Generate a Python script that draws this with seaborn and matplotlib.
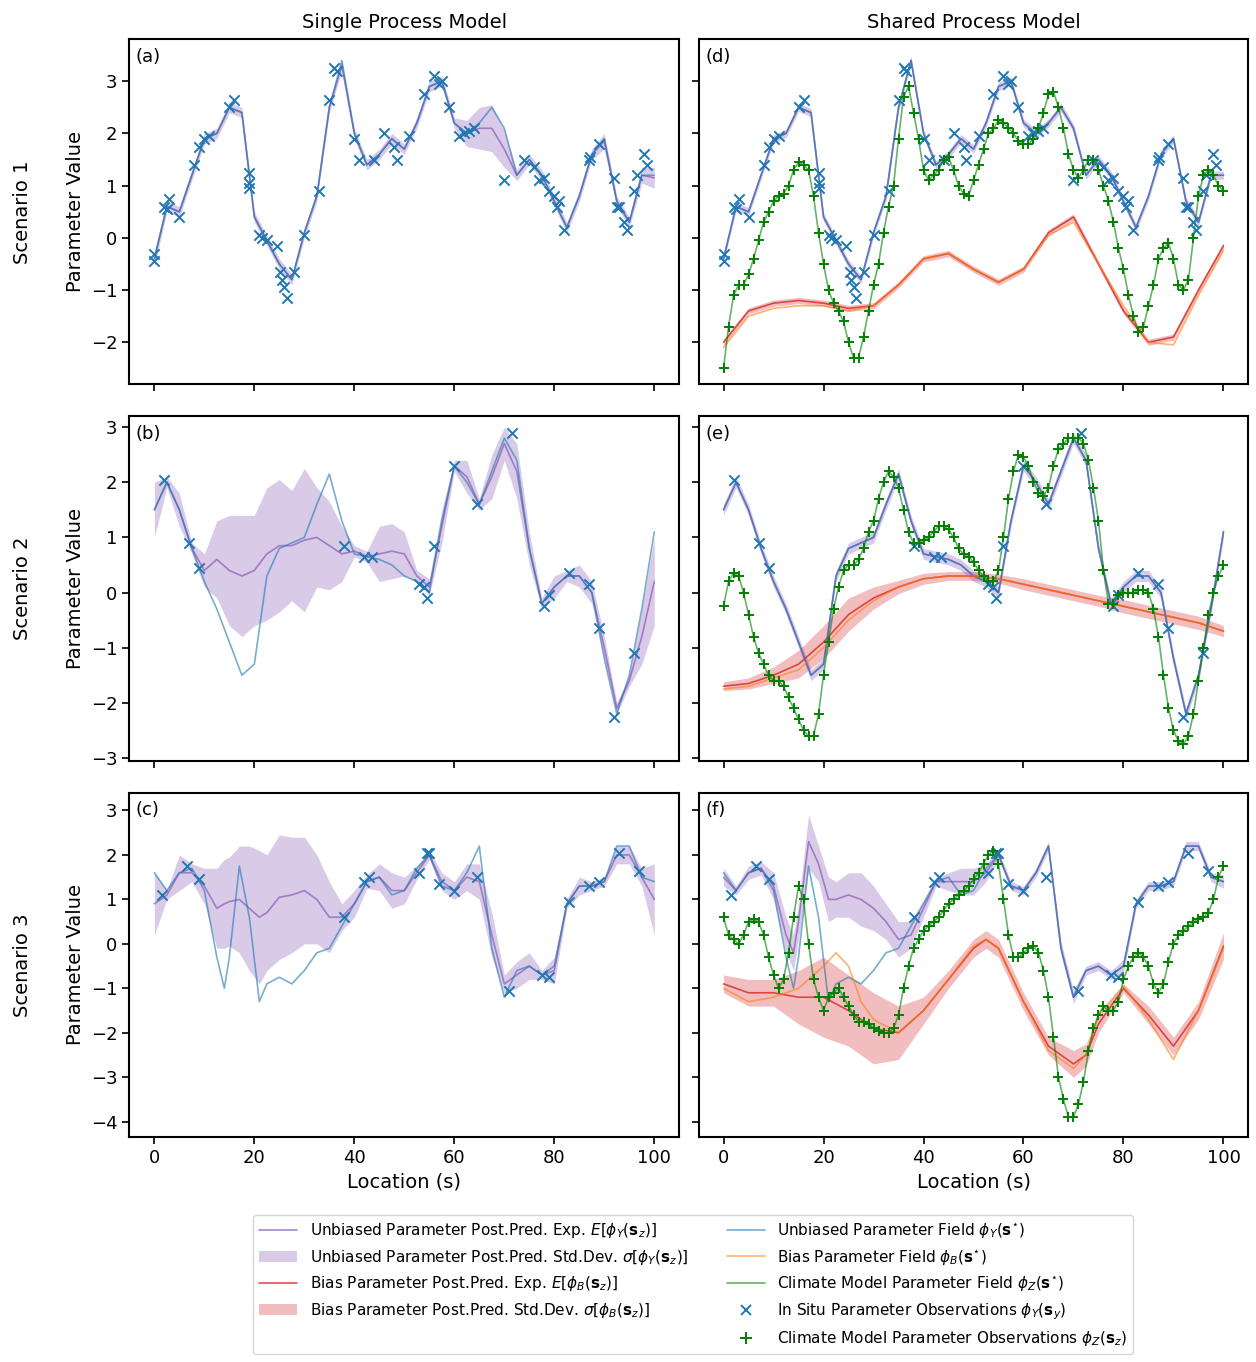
import numpy as np
import seaborn as sns
import matplotlib.pyplot as plt
from matplotlib.lines import Line2D
from matplotlib.patches import Patch

sns.set_style('ticks', {'axes.edgecolor': 'black', 'xtick.color': 'black', 'ytick.color': 'black',
                        'text.color': 'black', 'axes.labelcolor': 'black'})
plt.rcParams['font.family'] = ['DejaVu Sans']

g = [0, 2.5, 5, 7.5, 10, 12.5, 15, 17.5, 20, 22.5, 25, 27.5, 30, 32.5, 35, 37.5, 40, 42.5, 45, 47.5,
     50, 52.5, 55, 57.5, 60, 62.5, 65, 67.5, 70, 72.5, 75, 77.5, 80, 82.5, 85, 87.5, 90, 92.5, 95, 97.5, 100]
g5 = [0, 5, 10, 15, 20, 25, 30, 35, 40, 45, 50, 55, 60, 65, 70, 75, 80, 85, 90, 95, 100]
g1 = list(range(101))

# ---------------- Scenario 1 ----------------
y1_obs_x = [0, 0, 2, 2.5, 3, 5, 8, 9, 10, 11, 15, 16, 19, 19, 19, 21, 21.5, 22.5, 24.5, 25.2, 25.5, 26, 26.5, 28, 30,
            33, 35, 36, 36.5, 40, 41, 44, 46, 48, 48.5, 51, 54, 56, 57, 57.5, 59, 61, 62, 63, 64, 70, 74, 76, 77, 78,
            79, 80, 80.5, 81, 82, 87, 87.2, 89, 92, 92.5, 93, 94, 94.5, 96, 96.5, 98, 98.5]
y1_obs = [-0.3, -0.45, 0.6, 0.55, 0.75, 0.4, 1.4, 1.75, 1.9, 1.95, 2.5, 2.65, 1.25, 1.05, 0.95, 0.05, 0, -0.05, -0.15,
          -0.65, -0.8, -0.95, -1.15, -0.65, 0.05, 0.9, 2.65, 3.25, 3.2, 1.9, 1.5, 1.5, 2.0, 1.75, 1.5, 1.95, 2.75, 3.1,
          2.95, 3.0, 2.5, 1.95, 2.0, 2.05, 2.1, 1.1, 1.5, 1.35, 1.1, 1.15, 0.9, 0.8, 0.6, 0.7, 0.15, 1.5, 1.55, 1.8,
          1.15, 0.6, 0.6, 0.3, 0.15, 0.9, 1.2, 1.6, 1.4]
y1_field = [-0.4, 0.6, 0.5, 1.2, 1.9, 2.0, 2.5, 2.4, 0.4, -0.05, -0.5, -0.8, 0.1, 0.8, 2.5, 3.4, 2.0, 1.4, 1.6, 1.9,
            1.7, 2.2, 2.9, 3.0, 2.2, 2.0, 2.2, 2.5, 2.1, 1.2, 1.5, 1.2, 0.7, 0.2, 0.8, 1.6, 1.9, 0.7, 0.3, 1.2, 1.2]
y1_mean_a = [-0.4, 0.6, 0.5, 1.2, 1.9, 2.0, 2.5, 2.4, 0.4, -0.05, -0.5, -0.8, 0.1, 0.8, 2.5, 3.3, 2.0, 1.4, 1.6, 1.9,
             1.7, 2.2, 2.9, 3.0, 2.2, 2.0, 2.1, 2.1, 1.7, 1.2, 1.5, 1.2, 0.7, 0.2, 0.8, 1.6, 1.85, 0.7, 0.3, 1.2, 1.15]
y1_std_a = [0.15, 0.1, 0.1, 0.1, 0.1, 0.1, 0.1, 0.1, 0.1, 0.1, 0.1, 0.1, 0.1, 0.1, 0.1, 0.1, 0.1, 0.1, 0.1, 0.1,
            0.1, 0.1, 0.1, 0.1, 0.1, 0.25, 0.4, 0.45, 0.35, 0.1, 0.1, 0.1, 0.1, 0.1, 0.1, 0.1, 0.15, 0.1, 0.1, 0.15, 0.2]
y1_mean_d = y1_field
y1_std_d = [0.08] * 41
b1_mean = [-2.0, -1.4, -1.25, -1.2, -1.25, -1.35, -1.3, -0.9, -0.4, -0.3, -0.6, -0.85, -0.6, 0.1, 0.4, -0.5,
           -1.4, -2.0, -1.9, -1.0, -0.15]
b1_std = [0.06] * 21
b1_field = [-2.1, -1.5, -1.35, -1.3, -1.3, -1.4, -1.3, -0.9, -0.4, -0.3, -0.6, -0.85, -0.6, 0.05, 0.3, -0.5,
            -1.3, -2.0, -2.05, -1.1, -0.25]
z1 = [-2.5, -1.7, -1.1, -0.9, -0.9, -0.7, -0.4, -0.05, 0.3, 0.5, 0.7, 0.8, 0.85, 1.0, 1.3, 1.45, 1.4, 1.3, 0.8, 0.1,
      -0.5, -1.0, -1.25, -1.4, -1.6, -2.0, -2.3, -2.3, -1.9, -1.4, -0.9, -0.5, 0.1, 0.6, 1.0, 1.9, 2.7, 2.9, 2.4, 1.9,
      1.3, 1.1, 1.2, 1.3, 1.5, 1.55, 1.3, 1.0, 0.85, 0.8, 1.1, 1.4, 1.7, 2.0, 2.1, 2.25, 2.2, 2.1, 2.0, 1.85, 1.8,
      1.8, 1.9, 2.1, 2.4, 2.75, 2.8, 2.5, 2.1, 1.6, 1.3, 1.15, 1.3, 1.5, 1.5, 1.3, 1.0, 0.7, 0.3, -0.2, -0.6, -1.1,
      -1.5, -1.8, -1.7, -1.3, -0.9, -0.4, -0.2, -0.1, -0.4, -0.9, -1.0, -0.8, 0.0, 0.8, 1.2, 1.3, 1.2, 1.0, 0.9]

# ---------------- Scenario 2 ----------------
y2_obs_x = [2, 7, 9, 38, 42, 43.5, 53, 54, 54.5, 56, 60, 64.5, 71.5, 78, 79, 83, 87, 89, 92, 96]
y2_obs = [2.05, 0.9, 0.45, 0.85, 0.65, 0.65, 0.15, 0.1, -0.1, 0.85, 2.3, 1.6, 2.9, -0.25, -0.05, 0.35, 0.15, -0.65,
          -2.25, -1.1]
y2_field = [1.5, 2.0, 1.5, 0.8, 0.2, -0.3, -0.9, -1.5, -1.3, 0.3, 0.8, 0.9, 1.0, 1.6, 2.15, 1.3, 0.7, 0.65, 0.6, 0.5,
            0.3, 0.2, 0.0, 1.3, 2.3, 2.0, 1.6, 2.2, 2.8, 2.4, 0.8, -0.2, 0.1, 0.3, 0.3, 0.0, -1.2, -2.2, -1.5, -0.3, 1.1]
y2_mean_b = [1.5, 2.0, 1.5, 0.8, 0.4, 0.6, 0.4, 0.3, 0.4, 0.7, 0.85, 0.85, 0.95, 1.0, 0.85, 0.7, 0.75, 0.65, 0.7,
             0.75, 0.7, 0.3, 0.1, 1.2, 2.3, 2.1, 1.6, 2.1, 2.7, 2.2, 0.8, -0.2, 0.1, 0.3, 0.3, 0.0, -1.0, -2.1, -1.6,
             -0.8, 0.2]
y2_std_b = [0.5, 0.1, 0.3, 0.1, 0.3, 0.7, 1.0, 1.1, 1.0, 1.2, 1.2, 1.0, 1.3, 0.9, 0.8, 0.5, 0.1, 0.1, 0.5, 0.5, 0.4,
            0.1, 0.15, 0.3, 0.1, 0.3, 0.1, 0.4, 0.3, 0.5, 0.3, 0.1, 0.2, 0.1, 0.2, 0.2, 0.2, 0.1, 0.1, 0.5, 0.8]
y2_mean_e = y2_field
y2_std_e = [0.1] * 41
b2_mean = [-1.7, -1.65, -1.5, -1.3, -0.9, -0.4, -0.1, 0.1, 0.25, 0.3, 0.3, 0.25, 0.15, 0.05, -0.05, -0.15, -0.25,
           -0.35, -0.45, -0.55, -0.7]
b2_std = [0.08, 0.1, 0.15, 0.25, 0.3, 0.3, 0.2, 0.12, 0.1, 0.08, 0.08, 0.08, 0.1, 0.1, 0.1, 0.1, 0.12, 0.12, 0.12,
          0.12, 0.1]
b2_field = [-1.75, -1.7, -1.55, -1.4, -1.0, -0.5, -0.15, 0.1, 0.25, 0.3, 0.3, 0.25, 0.15, 0.05, -0.05, -0.15,
            -0.25, -0.35, -0.45, -0.55, -0.7]
z2 = [-0.25, 0.2, 0.35, 0.3, 0.0, -0.4, -0.8, -1.1, -1.3, -1.5, -1.6, -1.6, -1.7, -1.9, -2.1, -2.3, -2.5, -2.6,
      -2.6, -2.2, -1.5, -0.9, -0.3, 0.1, 0.4, 0.5, 0.5, 0.6, 0.8, 1.1, 1.3, 1.7, 2.0, 2.2, 2.1, 1.9, 1.5, 1.1, 0.9,
      0.9, 0.95, 1.0, 1.1, 1.2, 1.2, 1.15, 1.0, 0.8, 0.7, 0.65, 0.55, 0.4, 0.3, 0.2, 0.2, 0.4, 1.0, 1.7, 2.2, 2.5,
      2.45, 2.3, 2.0, 1.8, 1.75, 1.9, 2.3, 2.6, 2.7, 2.8, 2.8, 2.8, 2.7, 2.4, 1.9, 1.3, 0.4, -0.2, -0.2, -0.05, 0.0,
      0.0, 0.0, 0.05, 0.05, 0.0, -0.3, -0.8, -1.5, -2.1, -2.5, -2.7, -2.75, -2.6, -2.2, -1.6, -1.0, -0.4, 0.0, 0.3,
      0.5]

# ---------------- Scenario 3 ----------------
y3_obs_x = [1.5, 6.5, 9, 38, 42, 43, 53, 54.5, 55, 57, 60, 64.5, 71, 77.5, 79, 83, 87, 89, 93, 97]
y3_obs = [1.1, 1.75, 1.45, 0.6, 1.4, 1.5, 1.6, 2.05, 2.05, 1.35, 1.2, 1.5, -1.05, -0.7, -0.75, 0.95, 1.3, 1.4, 2.05,
          1.65]
y3_x = [0, 2.5, 5, 7.5, 10, 12.5, 14, 15, 17, 19, 21, 22.5, 25, 27.5, 30, 32.5, 35, 37.5, 40, 42.5, 45, 47.5, 50,
        52.5, 55, 57.5, 60, 62.5, 65, 67.5, 70, 72.5, 75, 77.5, 80, 82.5, 85, 87.5, 90, 92.5, 95, 97.5, 100]
y3_field = [1.6, 1.2, 1.6, 1.7, 1.2, -0.3, -1.0, -0.3, 1.75, 0.6, -1.3, -0.9, -0.75, -0.9, -0.6, -0.2, -0.1, 0.4,
            0.9, 1.4, 1.5, 1.1, 1.2, 1.7, 2.0, 1.3, 1.2, 1.6, 2.2, -0.1, -1.2, -0.6, -0.5, -0.7, -0.5, 0.9, 1.3, 1.3,
            1.4, 2.2, 2.2, 1.5, 1.4]
y3_mean_c = [0.9, 1.1, 1.6, 1.6, 1.3, 0.8, 0.9, 0.95, 1.0, 0.8, 0.6, 0.7, 1.05, 1.1, 1.2, 1.0, 0.6, 0.6, 0.9, 1.4,
             1.5, 1.2, 1.2, 1.6, 2.0, 1.4, 1.2, 1.5, 1.4, 0.2, -0.9, -0.7, -0.5, -0.7, -0.6, 0.9, 1.3, 1.3, 1.4, 2.0,
             2.0, 1.5, 1.0]
y3_std_c = [0.7, 0.1, 0.4, 0.2, 0.4, 0.9, 1.0, 1.0, 1.2, 1.4, 1.5, 1.3, 1.4, 1.3, 1.2, 1.0, 0.8, 0.3, 0.3, 0.15,
            0.3, 0.4, 0.3, 0.15, 0.1, 0.2, 0.2, 0.3, 0.4, 0.5, 0.2, 0.3, 0.3, 0.1, 0.3, 0.1, 0.2, 0.1, 0.1, 0.2, 0.2,
            0.2, 0.8]
y3_mean_f = [1.5, 1.2, 1.6, 1.7, 1.3, 0.2, -0.2, 0.5, 2.3, 1.8, 1.0, 1.0, 1.1, 1.0, 0.8, 0.5, 0.1, 0.2, 0.8, 1.4,
             1.4, 1.4, 1.4, 1.6, 2.0, 1.3, 1.2, 1.6, 2.2, -0.1, -1.2, -0.6, -0.5, -0.7, -0.5, 0.9, 1.3, 1.3, 1.4, 2.2,
             2.2, 1.5, 1.4]
y3_std_f = [0.2, 0.1, 0.15, 0.15, 0.3, 0.4, 0.4, 0.4, 0.6, 0.4, 0.5, 0.4, 0.5, 0.6, 0.5, 0.4, 0.4, 0.3, 0.2, 0.1,
            0.2, 0.3, 0.3, 0.2, 0.1, 0.1, 0.1, 0.1, 0.1, 0.15, 0.15, 0.1, 0.1, 0.1, 0.15, 0.1, 0.1, 0.1, 0.1, 0.1,
            0.1, 0.1, 0.15]
b3_x = [0, 5, 10, 15, 20, 25, 30, 35, 40, 45, 50, 52.5, 55, 60, 65, 70, 72.5, 75, 80, 85, 90, 95, 100]
b3_mean = [-0.9, -1.1, -1.1, -1.2, -1.2, -1.5, -1.9, -2.0, -1.5, -0.8, -0.1, 0.1, -0.1, -1.3, -2.3, -2.7, -2.5,
           -1.8, -1.0, -1.6, -2.3, -1.5, -0.05]
b3_std = [0.2, 0.3, 0.3, 0.6, 0.9, 0.8, 0.8, 0.6, 0.3, 0.2, 0.2, 0.2, 0.2, 0.2, 0.2, 0.3, 0.25, 0.2, 0.1, 0.2, 0.2,
          0.2, 0.3]
b3_field_x = [0, 5, 10, 15, 20, 22.5, 25, 27.5, 30, 35, 40, 45, 50, 52.5, 55, 60, 65, 70, 72.5, 75, 80, 85, 90, 95,
              100]
b3_field = [-1.0, -1.3, -1.2, -1.0, -0.5, -0.2, -0.5, -1.3, -1.7, -2.0, -1.5, -0.8, -0.05, 0.1, -0.1, -1.3, -2.4,
            -2.8, -2.5, -1.6, -0.95, -1.7, -2.6, -1.5, -0.1]
z3 = [0.6, 0.2, 0.1, 0.0, 0.2, 0.5, 0.55, 0.5, 0.2, -0.3, -0.7, -1.0, -0.8, -0.2, 0.6, 1.3, 1.0, 0.0, -0.8, -1.2,
      -1.5, -1.2, -1.1, -1.0, -1.2, -1.4, -1.6, -1.75, -1.75, -1.8, -1.9, -1.95, -2.0, -2.0, -1.9, -1.6, -1.0, -0.5,
      -0.1, 0.1, 0.3, 0.4, 0.5, 0.6, 0.75, 0.9, 1.0, 1.1, 1.2, 1.3, 1.45, 1.6, 1.8, 2.0, 2.1, 1.8, 1.0, 0.2, -0.3,
      -0.3, -0.2, -0.1, -0.05, -0.2, -0.6, -1.2, -2.1, -3.0, -3.5, -3.9, -3.9, -3.6, -3.1, -2.4, -1.9, -1.6, -1.4,
      -1.5, -1.5, -1.3, -0.8, -0.5, -0.3, -0.2, -0.3, -0.5, -0.9, -1.1, -0.9, -0.4, 0.0, 0.2, 0.3, 0.4, 0.5, 0.55,
      0.6, 0.7, 1.0, 1.5, 1.75]

BLUE, PURPLE, RED, ORANGE, GREEN = '#1f77b4', '#9467bd', '#d62728', '#ff7f0e', 'green'


def band(ax, x, m, s, col, alpha):
    m, s = np.array(m), np.array(s)
    ax.fill_between(x, m - s, m + s, color=col, alpha=alpha, lw=0)
    sns.lineplot(x=x, y=m, ax=ax, color=col, lw=1.2, alpha=0.8, sort=False)


def line(ax, x, y, col):
    sns.lineplot(x=x, y=y, ax=ax, color=col, lw=1.2, alpha=0.6, sort=False)


def obs(ax, x, y, marker, col):
    sns.scatterplot(x=x, y=y, ax=ax, marker=marker, color=col, s=55, linewidth=1.4, zorder=5)


fig, axes = plt.subplots(3, 2, figsize=(12.56, 13.62), dpi=100, sharex=True, sharey='row')
fig.subplots_adjust(left=0.103, right=0.994, top=0.971, bottom=0.165, wspace=0.035, hspace=0.093)

rows = [
    dict(yf=(g, y1_field), ms=(g, y1_mean_a, y1_std_a), md=(g, y1_mean_d, y1_std_d), obs=(y1_obs_x, y1_obs),
         b=(g5, b1_mean, b1_std), bf=(g5, b1_field), z=z1, ylim=(-2.8, 3.8), yt=[-2, -1, 0, 1, 2, 3]),
    dict(yf=(g, y2_field), ms=(g, y2_mean_b, y2_std_b), md=(g, y2_mean_e, y2_std_e), obs=(y2_obs_x, y2_obs),
         b=(g5, b2_mean, b2_std), bf=(g5, b2_field), z=z2, ylim=(-3.05, 3.2), yt=[-3, -2, -1, 0, 1, 2, 3]),
    dict(yf=(y3_x, y3_field), ms=(y3_x, y3_mean_c, y3_std_c), md=(y3_x, y3_mean_f, y3_std_f), obs=(y3_obs_x, y3_obs),
         b=(b3_x, b3_mean, b3_std), bf=(b3_field_x, b3_field), z=z3, ylim=(-4.35, 3.4),
         yt=[-4, -3, -2, -1, 0, 1, 2, 3]),
]
letters = ['(a)', '(d)', '(b)', '(e)', '(c)', '(f)']

for i, r in enumerate(rows):
    axl, axr = axes[i]
    # single process
    band(axl, *r['ms'], PURPLE, 0.35)
    line(axl, *r['yf'], BLUE)
    obs(axl, *r['obs'], 'x', BLUE)
    # shared process
    band(axr, *r['md'], PURPLE, 0.35)
    band(axr, *r['b'], RED, 0.3)
    line(axr, *r['yf'], BLUE)
    line(axr, *r['bf'], ORANGE)
    line(axr, g1, r['z'], GREEN)
    obs(axr, *r['obs'], 'x', BLUE)
    obs(axr, g1, r['z'], '+', GREEN)
    for ax in (axl, axr):
        ax.set_ylim(*r['ylim'])
        ax.set_yticks(r['yt'])
        ax.set_xlim(-5, 105)
        ax.set_xticks([0, 20, 40, 60, 80, 100])
        ax.tick_params(labelsize=13, width=1.2, length=5)
        for sp in ax.spines.values():
            sp.set_linewidth(1.5)
        ax.set_ylabel('')
    axl.set_ylabel('Parameter Value', fontsize=14)
    fig.text(0.018, (axl.get_position().y0 + axl.get_position().y1) / 2, f'Scenario {i + 1}',
             rotation=90, va='center', ha='center', fontsize=14)

for ax, lt in zip(axes.flat, letters):
    ax.text(0.012, 0.975, lt, transform=ax.transAxes, ha='left', va='top', fontsize=13)

axes[0, 0].set_title('Single Process Model', fontsize=14, pad=8)
axes[0, 1].set_title('Shared Process Model', fontsize=14, pad=8)
for ax in axes[2]:
    ax.set_xlabel('Location (s)', fontsize=14)

handles = [
    Line2D([], [], color=PURPLE, alpha=0.8, lw=1.2),
    Patch(color=PURPLE, alpha=0.35, lw=0),
    Line2D([], [], color=RED, alpha=0.8, lw=1.2),
    Patch(color=RED, alpha=0.3, lw=0),
    Line2D([], [], color='none'),
    Line2D([], [], color=BLUE, alpha=0.6, lw=1.2),
    Line2D([], [], color=ORANGE, alpha=0.6, lw=1.2),
    Line2D([], [], color=GREEN, alpha=0.6, lw=1.2),
    Line2D([], [], color=BLUE, marker='x', ls='none', ms=7, mew=1.4),
    Line2D([], [], color=GREEN, marker='+', ls='none', ms=8, mew=1.4),
]
labels = [
    r'Unbiased Parameter Post.Pred. Exp. $E[\phi_Y(\mathbf{s}_z)]$',
    r'Unbiased Parameter Post.Pred. Std.Dev. $\sigma[\phi_Y(\mathbf{s}_z)]$',
    r'Bias Parameter Post.Pred. Exp. $E[\phi_B(\mathbf{s}_z)]$',
    r'Bias Parameter Post.Pred. Std.Dev. $\sigma[\phi_B(\mathbf{s}_z)]$',
    '',
    r'Unbiased Parameter Field $\phi_Y(\mathbf{s}^{\star})$',
    r'Bias Parameter Field $\phi_B(\mathbf{s}^{\star})$',
    r'Climate Model Parameter Field $\phi_Z(\mathbf{s}^{\star})$',
    r'In Situ Parameter Observations $\phi_Y(\mathbf{s}_y)$',
    r'Climate Model Parameter Observations $\phi_Z(\mathbf{s}_z)$',
]
fig.legend(handles, labels, loc='lower center', bbox_to_anchor=(0.552, 0.0), ncol=2, fontsize=11,
           frameon=True, columnspacing=2.5, handlelength=2.5)

fig.savefig('out.png', dpi=100)
